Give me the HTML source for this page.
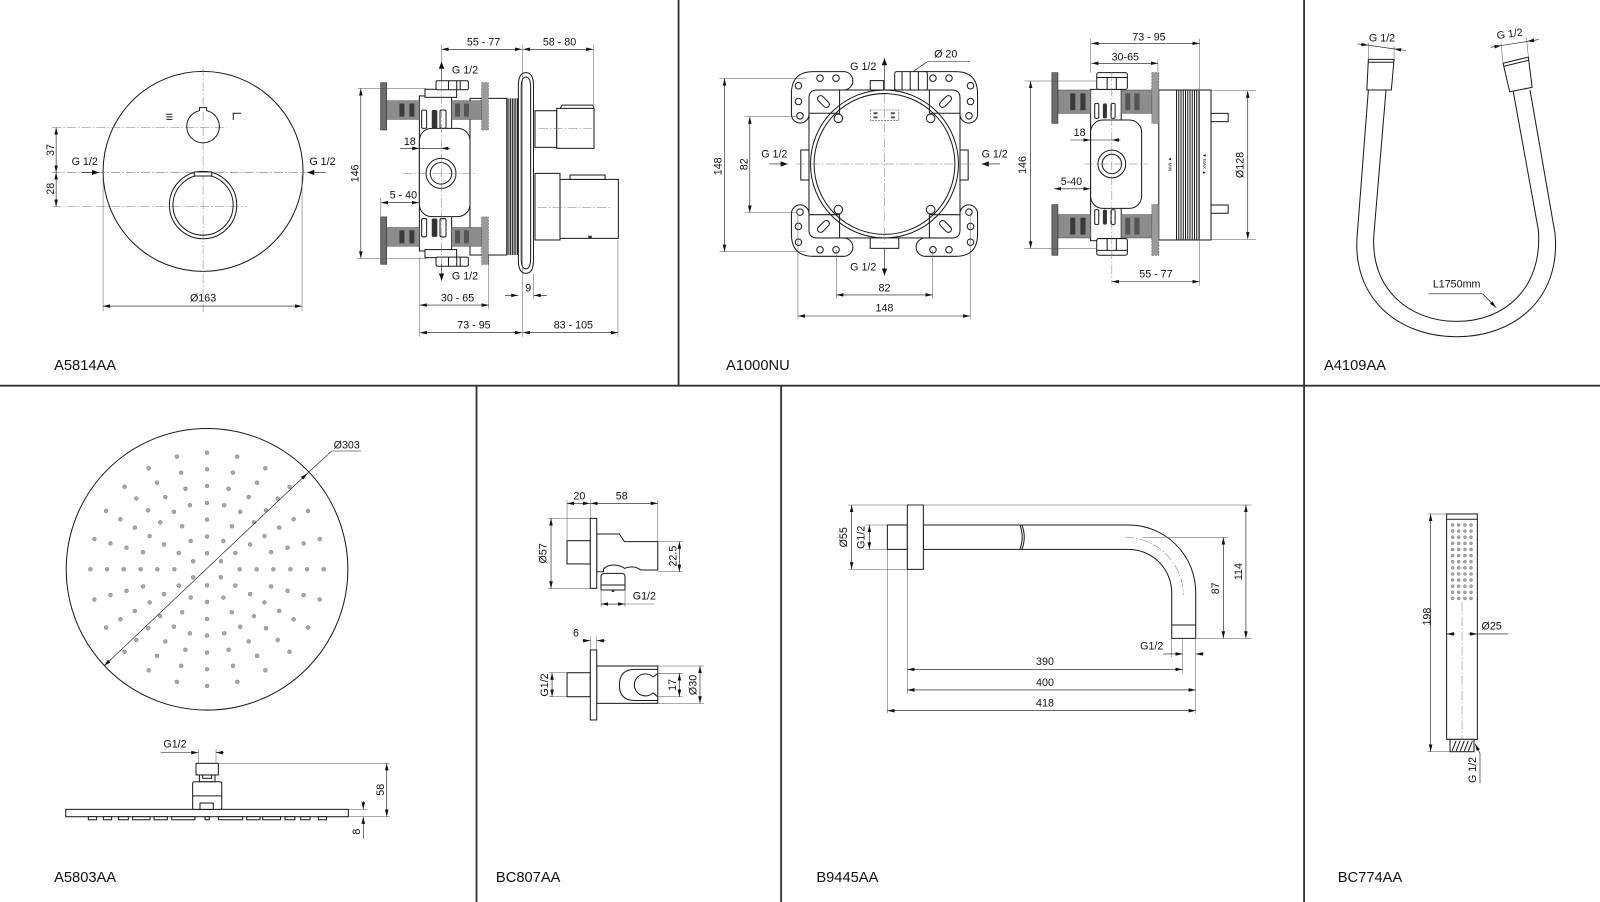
<!DOCTYPE html>
<html><head><meta charset="utf-8">
<style>
html,body{margin:0;padding:0;background:#fff}
svg{display:block}
text{font-family:"Liberation Sans",Arial,sans-serif;font-size:10.5px;fill:#111}
.lb{font-size:14.4px}
.sm{font-size:4.5px}
.o{fill:#fff;stroke:#1a1a1a;stroke-width:1}
.n{fill:none;stroke:#1a1a1a;stroke-width:1}
.d{fill:none;stroke:#111;stroke-width:0.6}
.e{fill:none;stroke:#555;stroke-width:0.5}
.c{fill:none;stroke:#777;stroke-width:0.5;stroke-dasharray:9 2 1.5 2}
.g{fill:#8c8c8c;stroke:#444;stroke-width:0.5}
.k{fill:#3a3a3a}
.h{fill:#9a9a9a;stroke:#555;stroke-width:0.6;stroke-dasharray:2 1}
.dot{fill:#a8a8a8;stroke:#777;stroke-width:0.45}
</style></head><body>
<svg width="1600" height="902" viewBox="0 0 1568 884" preserveAspectRatio="none" xmlns="http://www.w3.org/2000/svg">
<defs>
<marker id="m" viewBox="0 0 8 4" refX="8" refY="2" markerWidth="7" markerHeight="3.5" markerUnits="userSpaceOnUse" orient="auto-start-reverse"><path d="M0,0L8,2L0,4z" fill="#111"/></marker>
<marker id="mb" viewBox="0 0 8 6" refX="8" refY="3" markerWidth="7" markerHeight="5.5" markerUnits="userSpaceOnUse" orient="auto-start-reverse"><path d="M0,0L8,3L0,6z" fill="#111"/></marker>
</defs>

<!-- dividers -->
<g stroke="#333" stroke-width="1.8">
<line x1="0" y1="378" x2="1568" y2="378"/>
<line x1="665" y1="0" x2="665" y2="378"/>
<line x1="1278" y1="0" x2="1278" y2="884"/>
<line x1="467" y1="378" x2="467" y2="884"/>
<line x1="765.5" y1="378" x2="765.5" y2="884"/>
</g>

<!-- labels -->
<text class="lb" x="53" y="362.6">A5814AA</text>
<text class="lb" x="711.5" y="362.6">A1000NU</text>
<text class="lb" x="1297.5" y="362.6">A4109AA</text>
<text class="lb" x="53" y="864.5">A5803AA</text>
<text class="lb" x="486" y="864.5">BC807AA</text>
<text class="lb" x="800" y="864.5">B9445AA</text>
<text class="lb" x="1311" y="864.5">BC774AA</text>

<!-- ================= A5814AA front ================= -->
<circle cx="199" cy="168" r="98" class="n" stroke-width="1.2"/>
<line class="c" x1="51" y1="169" x2="300" y2="169"/>
<line class="c" x1="199" y1="66" x2="199" y2="306"/>
<line class="c" x1="51" y1="125" x2="222" y2="125"/>
<line class="c" x1="51" y1="202.5" x2="242" y2="202.5"/>
<circle cx="199" cy="124" r="16" class="n" stroke-width="1.1"/>
<path class="o" d="M195.5,108.8 V105.5 H202.5 V108.8"/>
<circle cx="199" cy="201" r="33" class="n" stroke-width="1.3"/>
<circle cx="199" cy="201" r="29.5" class="n" stroke-width="0.7"/>
<rect x="190.5" y="168.5" width="17" height="4" class="o" stroke-width="0.7"/>
<path class="n" d="M163,112 h6 M163,114.5 h6 M163,117 h6" stroke-width="0.7"/>
<path class="n" d="M228.6,117.5 V111 H236.3" stroke-width="1.2"/>
<line class="d" x1="55" y1="125" x2="55" y2="169" marker-start="url(#m)" marker-end="url(#m)"/>
<line class="d" x1="55" y1="169" x2="55" y2="202.5" marker-start="url(#m)" marker-end="url(#m)"/>
<text transform="translate(49,147) rotate(-90)" text-anchor="middle" dy="0.35em">37</text>
<text transform="translate(49,185) rotate(-90)" text-anchor="middle" dy="0.35em">28</text>
<text x="83" y="161.7" text-anchor="middle">G 1/2</text>
<line class="d" x1="80" y1="169" x2="97" y2="169" stroke-width="1.4" marker-end="url(#mb)"/>
<text x="316" y="161.7" text-anchor="middle">G 1/2</text>
<line class="d" x1="319" y1="169" x2="301" y2="169" stroke-width="1.4" marker-end="url(#mb)"/>
<line class="e" x1="101" y1="172" x2="101" y2="305"/>
<line class="e" x1="296" y1="172" x2="296" y2="305"/>
<line class="d" x1="101" y1="300" x2="296" y2="300" marker-start="url(#m)" marker-end="url(#m)"/>
<text x="199" y="295.5" text-anchor="middle">Ø163</text>

<!-- ================= A5814AA side ================= -->
<rect x="460.6" y="96.4" width="36" height="153.5" class="o"/>
<path class="n" stroke-width="0.6" d="M497,96.4V249.9M498.7,96.4V249.9M500.4,96.4V249.9M502.1,96.4V249.9M503.8,96.4V249.9M505.5,96.4V249.9M507.2,96.4V249.9"/>
<rect x="411" y="94" width="31.6" height="152" class="o"/>
<g id="p1u">
<rect x="379" y="98.7" width="32" height="18.3" class="g"/>
<rect x="391.4" y="101.5" width="4.9" height="12.8" class="k"/>
<rect x="401.2" y="101.5" width="4.9" height="12.8" class="k"/>
<rect x="442.6" y="98.7" width="29.4" height="18.3" class="g"/>
<rect x="445.9" y="101.5" width="4.9" height="12.8" fill="#555"/>
<rect x="454.7" y="101.5" width="4.9" height="12.8" fill="#555"/>
<rect x="373" y="81" width="6" height="46.4" fill="#6d6d6d" stroke="#333" stroke-width="0.6"/>
<rect x="472" y="81" width="6.6" height="46.4" class="h"/>
<rect x="413.2" y="107.8" width="4.9" height="18" rx="1.5" class="o" stroke-width="0.6"/>
<rect x="423.1" y="107.8" width="5.5" height="18" rx="1.5" fill="#333"/>
<rect x="431.2" y="107.8" width="5.9" height="18" rx="1.5" class="o" stroke-width="0.6"/>
<rect x="416.5" y="87.5" width="31" height="7.9" class="o"/>
<rect x="427.3" y="79.1" width="31.7" height="8.9" rx="1.5" class="o"/>
<path class="n" stroke-width="0.6" d="M439.5,79.1V88M447.6,79.1V88M451,79.1V88"/>
</g>
<use href="#p1u" transform="translate(0,340) scale(1,-1)"/>
<rect x="411" y="125.8" width="49.6" height="86.5" rx="12" class="o"/>
<circle cx="432.2" cy="169.9" r="14.7" class="o" stroke-width="1.1"/>
<circle cx="432.2" cy="169.9" r="10.5" class="n" stroke-width="0.8"/>
<line class="c" x1="395" y1="170" x2="468" y2="170"/>
<line class="c" x1="432.7" y1="78" x2="432.7" y2="262"/>
<path class="o" stroke-width="1.1" d="M508,84 Q508,71.2 515.4,71.2 Q522.8,71.2 522.8,84 V255 Q522.8,267.8 515.4,267.8 Q508,267.8 508,255 Z"/>
<path class="n" stroke-width="0.5" d="M510.8,86 Q510.8,75.5 515.4,75.5 Q520,75.5 520,86 V253 Q520,263.5 515.4,263.5 Q510.8,263.5 510.8,253 Z"/>
<rect x="524.3" y="108.5" width="21.3" height="35.9" class="o"/>
<rect x="545.6" y="106.2" width="36.5" height="39.2" class="o"/>
<path class="n" stroke-width="0.7" d="M549,106.2 L551,103 H581 L582.1,106.2"/>
<line class="c" x1="528" y1="125.8" x2="580" y2="125.8"/>
<rect x="524.3" y="169.9" width="24.5" height="65.3" class="o"/>
<rect x="548.8" y="175.8" width="57.2" height="57.8" class="o"/>
<rect x="558.6" y="171.5" width="34.4" height="4.3" class="o" stroke-width="0.7"/>
<rect x="576.5" y="231" width="3.5" height="2.6" fill="#333"/>
<line class="c" x1="527" y1="203.5" x2="600" y2="203.5"/>
<!-- dims -->
<line class="e" x1="432.7" y1="44" x2="432.7" y2="60"/>
<line class="e" x1="512" y1="44" x2="512" y2="330"/>
<line class="e" x1="581.4" y1="44" x2="581.4" y2="106"/>
<line class="d" x1="432.7" y1="48.3" x2="511.5" y2="48.3" marker-start="url(#m)" marker-end="url(#m)"/>
<line class="d" x1="512.5" y1="48.3" x2="581.4" y2="48.3" marker-start="url(#m)" marker-end="url(#m)"/>
<text x="473.9" y="44.8" text-anchor="middle">55 - 77</text>
<text x="548.3" y="44.8" text-anchor="middle">58 - 80</text>
<line class="e" x1="350.6" y1="86.6" x2="418" y2="86.6"/>
<line class="e" x1="350.6" y1="253.2" x2="418" y2="253.2"/>
<line class="d" x1="353.6" y1="86.6" x2="353.6" y2="253.2" marker-start="url(#m)" marker-end="url(#m)"/>
<text transform="translate(347.5,170) rotate(-90)" text-anchor="middle" dy="0.35em">146</text>
<text x="401.6" y="142" text-anchor="middle">18</text>
<line class="d" x1="392" y1="145.4" x2="411" y2="145.4" marker-end="url(#m)"/>
<line class="d" x1="441" y1="145.4" x2="432.4" y2="145.4" marker-end="url(#m)"/>
<line class="d" x1="411" y1="145.4" x2="432.4" y2="145.4"/>
<text x="395.3" y="194.5" text-anchor="middle">5 - 40</text>
<line class="d" x1="373.2" y1="198.6" x2="410.6" y2="198.6" marker-start="url(#m)" marker-end="url(#m)"/>
<line class="e" x1="373.2" y1="194" x2="373.2" y2="212"/>
<line class="d" x1="432.7" y1="79" x2="432.7" y2="60.4" stroke-width="1.3" marker-end="url(#mb)"/>
<text x="442.9" y="71.9">G 1/2</text>
<line class="d" x1="432.7" y1="259" x2="432.7" y2="275" stroke-width="1.3" marker-end="url(#mb)"/>
<text x="442.9" y="273.8">G 1/2</text>
<line class="e" x1="411.4" y1="252" x2="411.4" y2="330"/>
<line class="e" x1="479" y1="250" x2="479" y2="303"/>
<line class="e" x1="605.6" y1="235" x2="605.6" y2="330"/>
<line class="d" x1="411.4" y1="299" x2="479" y2="299" marker-start="url(#m)" marker-end="url(#m)"/>
<text x="448.4" y="295.7" text-anchor="middle">30 - 65</text>
<text x="517.7" y="285.9" text-anchor="middle">9</text>
<line class="d" x1="495" y1="289.5" x2="508" y2="289.5" marker-end="url(#m)"/>
<line class="d" x1="536" y1="289.5" x2="523" y2="289.5" marker-end="url(#m)"/>
<line class="e" x1="523" y1="268" x2="523" y2="293"/>
<line class="d" x1="411.4" y1="326" x2="511.5" y2="326" marker-start="url(#m)" marker-end="url(#m)"/>
<text x="464.5" y="321.8" text-anchor="middle">73 - 95</text>
<line class="d" x1="512.5" y1="326" x2="605.6" y2="326" marker-start="url(#m)" marker-end="url(#m)"/>
<text x="561.9" y="321.8" text-anchor="middle">83 - 105</text>

<!-- ================= A1000NU front ================= -->
<rect x="792.8" y="88.2" width="148" height="145" class="o"/>
<g id="brk">
<path class="o" d="M792.8,114 V96 Q792.8,88.2 800.6,88.2 H826.8 A9,9 0 0 0 826.8,70.2 H797 Q775.6,70.2 775.6,92 V112 A8.6,8.6 0 0 0 792.8,112 Z"/>
<circle cx="803.6" cy="76.6" r="3.2" class="n"/>
<circle cx="819.3" cy="76.6" r="3.2" class="n"/>
<circle cx="782.5" cy="84" r="3.2" class="n"/>
<circle cx="782.5" cy="99.5" r="3.2" class="n"/>
<circle cx="784" cy="113.5" r="3.2" class="n"/>
<path class="n" stroke-width="0.7" d="M792.8,111 H822.8 V88.2"/>
<rect x="800" y="96.5" width="14" height="6" rx="3" class="n" transform="rotate(45 807 99.5)"/>
<circle cx="821.6" cy="116" r="4.2" class="n" stroke-width="0.9"/>
</g>
<use href="#brk" transform="translate(1733.6,0) scale(-1,1)"/>
<use href="#brk" transform="translate(0,321.4) scale(1,-1)"/>
<use href="#brk" transform="translate(1733.6,321.4) scale(-1,-1)"/>
<circle cx="866.8" cy="160.7" r="72.5" class="n" stroke-width="1.2"/>
<circle cx="866.8" cy="160.7" r="69" class="n" stroke-width="0.8"/>
<rect x="784.8" y="147" width="8" height="29.4" class="o"/>
<rect x="940.8" y="147" width="8" height="29.4" class="o"/>
<rect x="852.8" y="79" width="13.2" height="9.2" class="o"/>
<rect x="876.8" y="70.2" width="32" height="18" rx="2" class="o"/>
<path class="n" stroke-width="0.6" d="M884,70.5V88M892,70.5V88M900,70.5V88"/>
<rect x="852.8" y="233.2" width="28" height="10.2" class="o"/>
<rect x="852.8" y="107.8" width="28" height="10.5" fill="none" stroke="#444" stroke-width="0.6" stroke-dasharray="2 1"/>
<path fill="#555" d="M856,110h4v2h-4zM873,110h4v2h-4zM856,114h4v2h-4zM873,114h4v2h-4z"/>
<line class="c" x1="780" y1="160.7" x2="955" y2="160.7"/>
<line class="c" x1="866.8" y1="92" x2="866.8" y2="238"/>
<!-- dims -->
<line class="d" x1="866.8" y1="88" x2="866.8" y2="57" stroke-width="1.3" marker-end="url(#mb)"/>
<text x="846" y="68.6" text-anchor="middle">G 1/2</text>
<text x="926.8" y="56.2" text-anchor="middle">Ø 20</text>
<path class="d" d="M894.8,70.2 L908.8,60.4 H950.8"/>
<line class="e" x1="705" y1="76.8" x2="790" y2="76.8"/>
<line class="e" x1="705" y1="246.7" x2="790" y2="246.7"/>
<line class="d" x1="710" y1="76.8" x2="710" y2="246.7" marker-start="url(#m)" marker-end="url(#m)"/>
<text transform="translate(703.6,163) rotate(-90)" text-anchor="middle" dy="0.35em">148</text>
<line class="e" x1="730" y1="114.3" x2="781" y2="114.3"/>
<line class="e" x1="730" y1="208.4" x2="781" y2="208.4"/>
<line class="d" x1="734.8" y1="114.3" x2="734.8" y2="208.4" marker-start="url(#m)" marker-end="url(#m)"/>
<text transform="translate(728.8,161) rotate(-90)" text-anchor="middle" dy="0.35em">82</text>
<text x="758.8" y="154.2" text-anchor="middle">G 1/2</text>
<line class="d" x1="754" y1="160.7" x2="772" y2="160.7" stroke-width="1.3" marker-end="url(#mb)"/>
<text x="974.8" y="154.2" text-anchor="middle">G 1/2</text>
<line class="d" x1="980" y1="160.7" x2="962" y2="160.7" stroke-width="1.3" marker-end="url(#mb)"/>
<line class="d" x1="866.8" y1="244" x2="866.8" y2="270" stroke-width="1.3" marker-end="url(#mb)"/>
<text x="846" y="265.3" text-anchor="middle">G 1/2</text>
<line class="e" x1="819.6" y1="245" x2="819.6" y2="293"/>
<line class="e" x1="914" y1="245" x2="914" y2="293"/>
<line class="d" x1="819.6" y1="289" x2="914" y2="289" marker-start="url(#m)" marker-end="url(#m)"/>
<text x="866.8" y="285.9" text-anchor="middle">82</text>
<line class="e" x1="782" y1="210" x2="782" y2="313"/>
<line class="e" x1="950.8" y1="210" x2="950.8" y2="313"/>
<line class="d" x1="782" y1="309.7" x2="950.8" y2="309.7" marker-start="url(#m)" marker-end="url(#m)"/>
<text x="866.8" y="305.5" text-anchor="middle">148</text>

<!-- ================= A1000NU side ================= -->
<rect x="1135.6" y="88.2" width="51.2" height="147" class="o"/>
<path class="n" stroke-width="0.6" d="M1153,88.2V235.2M1155.2,88.2V235.2M1157.4,88.2V235.2M1159.6,88.2V235.2M1161.8,88.2V235.2M1164,88.2V235.2M1166.2,88.2V235.2M1168.4,88.2V235.2M1170.6,88.2V235.2M1172.8,88.2V235.2M1175,88.2V235.2"/>
<rect x="1186.8" y="111.1" width="16.8" height="8.1" class="o"/>
<rect x="1186.8" y="200.9" width="16.8" height="8.1" class="o"/>
<text class="sm" transform="translate(1146.8,160.7) rotate(90)" text-anchor="middle" dy="0.35em">▼ MIN</text>
<text class="sm" transform="translate(1180.5,160.7) rotate(90)" text-anchor="middle" dy="0.35em">▼ MAX ▲</text>
<rect x="1068.8" y="87.6" width="30" height="148.3" class="o"/>
<g id="p2u">
<rect x="1036.8" y="88.2" width="32" height="22.9" class="g"/>
<rect x="1048.8" y="91.5" width="5" height="16.5" class="k"/>
<rect x="1058.8" y="91.5" width="5" height="16.5" class="k"/>
<rect x="1098.8" y="88.2" width="30" height="22.9" class="g"/>
<rect x="1102.8" y="91.5" width="4.8" height="16.5" fill="#555"/>
<rect x="1111.6" y="91.5" width="5.2" height="16.5" fill="#555"/>
<rect x="1030.8" y="71.2" width="6" height="49.7" fill="#6d6d6d" stroke="#333" stroke-width="0.6"/>
<rect x="1128.8" y="71.2" width="6.8" height="49.7" class="h"/>
<rect x="1072.8" y="101.3" width="4" height="14.7" rx="1.5" class="o" stroke-width="0.6"/>
<rect x="1080.8" y="101.3" width="4" height="14.7" rx="1.5" fill="#333"/>
<rect x="1088.8" y="101.3" width="4" height="14.7" rx="1.5" class="o" stroke-width="0.6"/>
<rect x="1074.8" y="71.2" width="30" height="16.4" rx="2" class="o"/>
<path class="n" stroke-width="0.6" d="M1074.8,76H1104.8M1085,76V87.6M1094,76V87.6"/>
</g>
<use href="#p2u" transform="translate(0,321.4) scale(1,-1)"/>
<rect x="1068.8" y="117.6" width="50" height="86.6" rx="12" class="o"/>
<circle cx="1089.6" cy="160.7" r="13.6" class="o" stroke-width="1.1"/>
<circle cx="1089.6" cy="160.7" r="9.5" class="n" stroke-width="0.8"/>
<line class="c" x1="1062.8" y1="160.7" x2="1124.8" y2="160.7"/>
<line class="c" x1="1089.6" y1="71" x2="1089.6" y2="278"/>
<!-- dims -->
<line class="e" x1="1068.8" y1="38" x2="1068.8" y2="71"/>
<line class="e" x1="1134.8" y1="58" x2="1134.8" y2="71"/>
<line class="e" x1="1175.6" y1="38" x2="1175.6" y2="280"/>
<line class="d" x1="1069.5" y1="42.5" x2="1175.6" y2="42.5" marker-start="url(#m)" marker-end="url(#m)"/>
<text x="1126" y="39.9" text-anchor="middle">73 - 95</text>
<line class="d" x1="1069.5" y1="62" x2="1134.8" y2="62" marker-start="url(#m)" marker-end="url(#m)"/>
<text x="1102.8" y="59.5" text-anchor="middle">30-65</text>
<line class="e" x1="1004" y1="79.4" x2="1075" y2="79.4"/>
<line class="e" x1="1004" y1="243.4" x2="1075" y2="243.4"/>
<line class="d" x1="1010" y1="79.4" x2="1010" y2="243.4" marker-start="url(#m)" marker-end="url(#m)"/>
<text transform="translate(1002,161.7) rotate(-90)" text-anchor="middle" dy="0.35em">146</text>
<text x="1058" y="133.3" text-anchor="middle">18</text>
<line class="d" x1="1048.8" y1="137.2" x2="1068.8" y2="137.2" marker-end="url(#m)"/>
<line class="d" x1="1098" y1="137.2" x2="1089.6" y2="137.2" marker-end="url(#m)"/>
<line class="d" x1="1068.8" y1="137.2" x2="1089.6" y2="137.2"/>
<text x="1050" y="181.3" text-anchor="middle">5-40</text>
<line class="d" x1="1033" y1="185" x2="1068.8" y2="185" marker-start="url(#m)" marker-end="url(#m)"/>
<line class="e" x1="1186.8" y1="88.9" x2="1231" y2="88.9"/>
<line class="e" x1="1186.8" y1="234.5" x2="1231" y2="234.5"/>
<line class="d" x1="1222.8" y1="88.9" x2="1222.8" y2="234.5" marker-start="url(#m)" marker-end="url(#m)"/>
<text transform="translate(1215,161.7) rotate(-90)" text-anchor="middle" dy="0.35em">Ø128</text>
<line class="d" x1="1089.6" y1="276" x2="1175.6" y2="276" marker-start="url(#m)" marker-end="url(#m)"/>
<text x="1132.8" y="272.1" text-anchor="middle">55 - 77</text>

<!-- ================= A4109AA hose ================= -->
<path class="n" stroke-width="1.1" d="M1341,88.2 L1330.2,228.7 C1324,292 1370,330 1427.6,330 C1485,330 1530,292 1523.9,228.7 L1499.4,88.2"/>
<path class="n" stroke-width="1.1" d="M1358.3,88.2 L1346.5,228.7 C1342,282 1380,315 1427.6,315 C1475,315 1512,282 1507.6,225.4 L1483,89.8"/>
<polygon class="o" points="1341,58.2 1366.2,58.2 1363.5,88.2 1339.5,88.2"/>
<line class="n" stroke-width="0.6" x1="1340.8" y1="61" x2="1366" y2="61"/>
<polygon class="o" points="1473,62 1497.8,56 1501.5,85.6 1479.5,89.9"/>
<line class="n" stroke-width="0.6" x1="1473.5" y1="65" x2="1498.2" y2="59"/>
<line class="e" x1="1341" y1="58" x2="1341" y2="42"/>
<line class="e" x1="1366.2" y1="58" x2="1366.2" y2="45"/>
<line class="d" x1="1330" y1="43" x2="1341" y2="44.3" marker-end="url(#m)"/>
<line class="d" x1="1378" y1="49.5" x2="1366.2" y2="48" marker-end="url(#m)"/>
<line class="d" x1="1341" y1="44.3" x2="1366.2" y2="48"/>
<text x="1354.4" y="40.8" text-anchor="middle">G 1/2</text>
<line class="e" x1="1473" y1="62" x2="1471" y2="42"/>
<line class="e" x1="1497.8" y1="56" x2="1496" y2="37"/>
<line class="d" x1="1460.9" y1="46.4" x2="1471.5" y2="44.6" marker-end="url(#m)"/>
<line class="d" x1="1508" y1="38.8" x2="1496.5" y2="40.6" marker-end="url(#m)"/>
<line class="d" x1="1471.5" y1="44.6" x2="1496.5" y2="40.6"/>
<text x="1480" y="36.6" text-anchor="middle" transform="rotate(-8 1480 36.6)">G 1/2</text>
<text x="1427.5" y="282" text-anchor="middle">L1750mm</text>
<path class="d" d="M1399.8,288 H1453 L1466.2,301.5" marker-end="url(#m)"/>

<!-- ================= A5803AA ================= -->
<circle cx="202.9" cy="557.9" r="138" class="n" stroke-width="1.1"/>
<g id="r4"><circle class="dot" cx="267.9" cy="557.9" r="1.9"/><circle class="dot" cx="284.6" cy="557.9" r="1.9"/><circle class="dot" cx="300.9" cy="557.9" r="1.9"/><circle class="dot" cx="317.2" cy="557.9" r="1.9"/></g>
<g id="r2"><circle class="dot" cx="234.9" cy="557.9" r="1.9"/><circle class="dot" cx="251.6" cy="557.9" r="1.9"/></g>
<circle id="r1" class="dot" cx="218.6" cy="557.9" r="1.9" transform="rotate(30 202.9 557.9)"/>
<use href="#r4" transform="rotate(15 202.9 557.9)"/>
<use href="#r4" transform="rotate(30 202.9 557.9)"/>
<use href="#r4" transform="rotate(45 202.9 557.9)"/>
<use href="#r4" transform="rotate(60 202.9 557.9)"/>
<use href="#r4" transform="rotate(75 202.9 557.9)"/>
<use href="#r4" transform="rotate(90 202.9 557.9)"/>
<use href="#r4" transform="rotate(105 202.9 557.9)"/>
<use href="#r4" transform="rotate(120 202.9 557.9)"/>
<use href="#r4" transform="rotate(135 202.9 557.9)"/>
<use href="#r4" transform="rotate(150 202.9 557.9)"/>
<use href="#r4" transform="rotate(165 202.9 557.9)"/>
<use href="#r4" transform="rotate(180 202.9 557.9)"/>
<use href="#r4" transform="rotate(195 202.9 557.9)"/>
<use href="#r4" transform="rotate(210 202.9 557.9)"/>
<use href="#r4" transform="rotate(225 202.9 557.9)"/>
<use href="#r4" transform="rotate(240 202.9 557.9)"/>
<use href="#r4" transform="rotate(255 202.9 557.9)"/>
<use href="#r4" transform="rotate(270 202.9 557.9)"/>
<use href="#r4" transform="rotate(285 202.9 557.9)"/>
<use href="#r4" transform="rotate(300 202.9 557.9)"/>
<use href="#r4" transform="rotate(315 202.9 557.9)"/>
<use href="#r4" transform="rotate(330 202.9 557.9)"/>
<use href="#r4" transform="rotate(345 202.9 557.9)"/>
<use href="#r2" transform="rotate(30 202.9 557.9)"/>
<use href="#r2" transform="rotate(60 202.9 557.9)"/>
<use href="#r2" transform="rotate(90 202.9 557.9)"/>
<use href="#r2" transform="rotate(120 202.9 557.9)"/>
<use href="#r2" transform="rotate(150 202.9 557.9)"/>
<use href="#r2" transform="rotate(180 202.9 557.9)"/>
<use href="#r2" transform="rotate(210 202.9 557.9)"/>
<use href="#r2" transform="rotate(240 202.9 557.9)"/>
<use href="#r2" transform="rotate(270 202.9 557.9)"/>
<use href="#r2" transform="rotate(300 202.9 557.9)"/>
<use href="#r2" transform="rotate(330 202.9 557.9)"/>
<use href="#r1" transform="rotate(60 202.9 557.9)"/>
<use href="#r1" transform="rotate(120 202.9 557.9)"/>
<use href="#r1" transform="rotate(180 202.9 557.9)"/>
<use href="#r1" transform="rotate(240 202.9 557.9)"/>
<use href="#r1" transform="rotate(300 202.9 557.9)"/>
<line class="d" x1="101.9" y1="652.7" x2="301.2" y2="463.9" marker-start="url(#m)" marker-end="url(#m)"/>
<path class="d" d="M301.2,463.9 L325,442 H353.8"/>
<text x="339.8" y="439.4" text-anchor="middle">Ø303</text>
<!-- side view -->
<rect x="64.4" y="793.2" width="277" height="7.2" class="o"/>
<g class="o" stroke-width="0.5">
<rect x="86.6" y="800.4" width="8.1" height="3"/><rect x="101.3" y="800.4" width="8.1" height="3"/><rect x="116" y="800.4" width="9.8" height="3"/><rect x="130" y="800.4" width="17" height="3"/><rect x="151" y="800.4" width="13" height="3"/><rect x="168.3" y="800.4" width="22.7" height="3"/><rect x="201" y="800.4" width="4" height="3"/><rect x="214" y="800.4" width="23.8" height="3"/><rect x="241.8" y="800.4" width="13" height="3"/><rect x="257.4" y="800.4" width="17.6" height="3"/><rect x="279.3" y="800.4" width="9.7" height="3"/><rect x="294.7" y="800.4" width="9.1" height="3"/><rect x="312" y="800.4" width="8" height="3"/>
</g>
<rect x="188.8" y="766.1" width="28.5" height="27.1" rx="1.5" class="o"/>
<line class="n" stroke-width="0.6" x1="188.8" y1="780" x2="217.3" y2="780"/>
<rect x="196" y="787" width="13" height="6.2" class="o" stroke-width="0.6"/>
<rect x="195.4" y="759.5" width="15.3" height="6.6" class="o"/>
<rect x="198.6" y="759.5" width="8.8" height="3.3" class="o" stroke-width="0.6"/>
<rect x="192.1" y="748.1" width="21.9" height="11.4" class="o"/>
<text x="171.5" y="732.4" text-anchor="middle">G1/2</text>
<line class="e" x1="194.4" y1="734" x2="194.4" y2="748"/>
<line class="e" x1="211.7" y1="734" x2="211.7" y2="748"/>
<line class="d" x1="157.5" y1="737.6" x2="194.4" y2="737.6" marker-end="url(#m)"/>
<line class="d" x1="219.5" y1="737.6" x2="211.7" y2="737.6" marker-end="url(#m)"/>
<line class="e" x1="214" y1="748" x2="382" y2="748"/>
<line class="e" x1="341.4" y1="793.2" x2="360" y2="793.2"/>
<line class="e" x1="341.4" y1="800.4" x2="382" y2="800.4"/>
<line class="d" x1="379" y1="748" x2="379" y2="800.4" marker-start="url(#m)" marker-end="url(#m)"/>
<text transform="translate(372.4,774) rotate(-90)" text-anchor="middle" dy="0.35em">58</text>
<line class="d" x1="356" y1="785" x2="356" y2="793.2" marker-end="url(#m)"/>
<line class="d" x1="356" y1="822" x2="356" y2="800.4" marker-end="url(#m)"/>
<text transform="translate(349,815) rotate(-90)" text-anchor="middle" dy="0.35em">8</text>

<!-- ================= BC807AA ================= -->
<rect x="555.7" y="529.9" width="22.8" height="22.8" class="o"/>
<path class="o" d="M584.8,523.3 H607 L611.9,530.8 H644.6 V558.6 H628 C622,554 616,555.5 612,557 C606,552.5 596,552.5 591.5,557.5 V560.3 H584.8 Z"/>
<rect x="578.5" y="508" width="6.3" height="68.6" class="o"/>
<path class="o" d="M589,578.2 V565 Q589,561.9 593,561.9 H608.5 Q612.5,561.9 612.5,565 V578.2 Z"/>
<line class="n" stroke-width="0.6" x1="589" y1="573.3" x2="612.5" y2="573.3"/>
<rect x="599.5" y="578.2" width="2.5" height="2" fill="#333"/>
<line class="e" x1="555.7" y1="490" x2="555.7" y2="529.9"/>
<line class="e" x1="578.5" y1="490" x2="578.5" y2="508"/>
<line class="e" x1="644.6" y1="490" x2="644.6" y2="530.8"/>
<line class="d" x1="555.7" y1="493.3" x2="578.3" y2="493.3" marker-start="url(#m)" marker-end="url(#m)"/>
<line class="d" x1="578.7" y1="493.3" x2="644.6" y2="493.3" marker-start="url(#m)" marker-end="url(#m)"/>
<text x="567.8" y="489.3" text-anchor="middle">20</text>
<text x="609.3" y="489.3" text-anchor="middle">58</text>
<line class="e" x1="537" y1="508" x2="578.5" y2="508"/>
<line class="e" x1="537" y1="576.6" x2="578.5" y2="576.6"/>
<line class="d" x1="540" y1="508" x2="540" y2="576.6" marker-start="url(#m)" marker-end="url(#m)"/>
<text transform="translate(531.8,542.3) rotate(-90)" text-anchor="middle" dy="0.35em">Ø57</text>
<line class="e" x1="644.6" y1="530.8" x2="669" y2="530.8"/>
<line class="e" x1="644.6" y1="560.3" x2="669" y2="560.3"/>
<line class="d" x1="665.8" y1="530.8" x2="665.8" y2="560.3" marker-start="url(#m)" marker-end="url(#m)"/>
<text transform="translate(659.2,545) rotate(-90)" text-anchor="middle" dy="0.35em">22.5</text>
<line class="e" x1="589" y1="578" x2="589" y2="595"/>
<line class="e" x1="612.5" y1="578" x2="612.5" y2="595"/>
<line class="d" x1="589" y1="592" x2="612.5" y2="592" marker-start="url(#m)" marker-end="url(#m)"/>
<line class="e" x1="612.5" y1="592" x2="641.4" y2="592"/>
<text x="631.5" y="587.4" text-anchor="middle">G1/2</text>
<!-- lower -->
<rect x="555.7" y="659.3" width="22.8" height="23.5" class="o"/>
<rect x="584.8" y="652.7" width="59.8" height="36.6" class="o"/>
<path class="n" d="M644.6,656 H622 Q607,656 607,671.3 Q607,686.5 622,686.5 H644.6"/>
<path class="n" stroke-width="1.1" d="M640,663.5 A10.8,10.8 0 1 0 640,679"/>
<line class="n" x1="640" y1="663.5" x2="644.6" y2="660"/>
<line class="n" x1="640" y1="679" x2="644.6" y2="683"/>
<rect x="578.5" y="637" width="6.3" height="68.6" class="o"/>
<text x="564.5" y="624" text-anchor="middle">6</text>
<line class="e" x1="578.5" y1="624" x2="578.5" y2="637"/>
<line class="e" x1="584.8" y1="624" x2="584.8" y2="637"/>
<line class="d" x1="571" y1="627.9" x2="578.5" y2="627.9" marker-end="url(#m)"/>
<line class="d" x1="593.3" y1="627.9" x2="584.8" y2="627.9" marker-end="url(#m)"/>
<line class="e" x1="538" y1="659.3" x2="555.7" y2="659.3"/>
<line class="e" x1="538" y1="682.8" x2="555.7" y2="682.8"/>
<line class="d" x1="541" y1="659.3" x2="541" y2="682.8" marker-start="url(#m)" marker-end="url(#m)"/>
<text transform="translate(533.5,671.3) rotate(-90)" text-anchor="middle" dy="0.35em">G1/2</text>
<line class="e" x1="644.6" y1="660" x2="669" y2="660"/>
<line class="e" x1="644.6" y1="682.8" x2="669" y2="682.8"/>
<line class="d" x1="665.8" y1="660" x2="665.8" y2="682.8" marker-start="url(#m)" marker-end="url(#m)"/>
<text transform="translate(658.6,671.3) rotate(-90)" text-anchor="middle" dy="0.35em">17</text>
<line class="e" x1="644.6" y1="652.7" x2="690" y2="652.7"/>
<line class="e" x1="644.6" y1="689.3" x2="690" y2="689.3"/>
<line class="d" x1="686" y1="652.7" x2="686" y2="689.3" marker-start="url(#m)" marker-end="url(#m)"/>
<text transform="translate(679,671.3) rotate(-90)" text-anchor="middle" dy="0.35em">Ø30</text>

<!-- ================= B9445AA ================= -->
<path class="o" d="M904.9,514.5 H1105.8 A66,66 0 0 1 1171.8,580.5 V625.6 H1148.3 V580.9 A42.5,42.5 0 0 0 1105.8,538.4 H904.9 Z"/>
<line class="n" stroke-width="0.7" x1="1148.3" y1="612.5" x2="1171.8" y2="612.5"/>
<path class="n" stroke-width="0.7" d="M999.5,514.5 Q1004,526.5 999.5,538.4 M1001.5,514.5 Q1006,526.5 1001.5,538.4"/>
<path class="c" d="M1102.5,526.6 A57,57 0 0 1 1159.7,583"/>
<rect x="869.6" y="514.5" width="19.6" height="23.9" class="o"/>
<rect x="889.2" y="494.9" width="15.7" height="63.1" class="o"/>
<line class="e" x1="831.4" y1="494.9" x2="1226.7" y2="494.9"/>
<line class="e" x1="831.4" y1="558" x2="889.2" y2="558"/>
<line class="d" x1="834.6" y1="494.9" x2="834.6" y2="558" marker-start="url(#m)" marker-end="url(#m)"/>
<text transform="translate(826.5,526.6) rotate(-90)" text-anchor="middle" dy="0.35em">Ø55</text>
<line class="e" x1="848" y1="514.5" x2="869.6" y2="514.5"/>
<line class="e" x1="848" y1="538.4" x2="869.6" y2="538.4"/>
<line class="d" x1="852" y1="514.5" x2="852" y2="538.4" marker-start="url(#m)" marker-end="url(#m)"/>
<text transform="translate(843.5,526.6) rotate(-90)" text-anchor="middle" dy="0.35em">G1/2</text>
<line class="e" x1="1120" y1="526.6" x2="1203" y2="526.6"/>
<line class="e" x1="1171.8" y1="625.6" x2="1226.7" y2="625.6"/>
<line class="d" x1="1198.9" y1="526.6" x2="1198.9" y2="625.6" marker-start="url(#m)" marker-end="url(#m)"/>
<text transform="translate(1190.7,576.6) rotate(-90)" text-anchor="middle" dy="0.35em">87</text>
<line class="d" x1="1221" y1="494.9" x2="1221" y2="625.6" marker-start="url(#m)" marker-end="url(#m)"/>
<text transform="translate(1213.6,560.2) rotate(-90)" text-anchor="middle" dy="0.35em">114</text>
<line class="e" x1="869.6" y1="538.4" x2="869.6" y2="699"/>
<line class="e" x1="889.2" y1="558" x2="889.2" y2="680"/>
<line class="e" x1="1148.3" y1="625.6" x2="1148.3" y2="644"/>
<line class="e" x1="1159" y1="625.6" x2="1159" y2="660"/>
<line class="e" x1="1171.8" y1="625.6" x2="1171.8" y2="699"/>
<text x="1128.7" y="636.5" text-anchor="middle">G1/2</text>
<line class="d" x1="1140" y1="640.9" x2="1159" y2="640.9" marker-end="url(#m)"/>
<line class="d" x1="1180" y1="640.9" x2="1171.8" y2="640.9" marker-end="url(#m)"/>
<line class="d" x1="889.2" y1="656" x2="1159" y2="656" marker-start="url(#m)" marker-end="url(#m)"/>
<text x="1024.1" y="651.7" text-anchor="middle">390</text>
<line class="d" x1="889.2" y1="676.2" x2="1171.8" y2="676.2" marker-start="url(#m)" marker-end="url(#m)"/>
<text x="1024.1" y="672.3" text-anchor="middle">400</text>
<line class="d" x1="869.6" y1="696.5" x2="1171.8" y2="696.5" marker-start="url(#m)" marker-end="url(#m)"/>
<text x="1024.1" y="692.6" text-anchor="middle">418</text>

<!-- ================= BC774AA ================= -->
<rect x="1417.7" y="503.7" width="30.1" height="220.9" class="o"/>
<line class="n" stroke-width="0.6" x1="1417.7" y1="508.9" x2="1447.8" y2="508.9"/>
<rect x="1421" y="724.6" width="23.5" height="12.1" class="o"/>
<path class="n" stroke-width="0.5" d="M1423,736 l4,-10 M1427,736 l4,-10 M1431,736 l4,-10 M1435,736 l4,-10 M1439,736 l4,-10"/>
<g id="dr"><circle class="dot" cx="1423.6" cy="514.5" r="1.5"/><circle class="dot" cx="1429.5" cy="514.5" r="1.5"/><circle class="dot" cx="1435.7" cy="514.5" r="1.5"/><circle class="dot" cx="1441.6" cy="514.5" r="1.5"/></g>
<use href="#dr" transform="translate(0,6)"/>
<use href="#dr" transform="translate(0,12)"/>
<use href="#dr" transform="translate(0,18)"/>
<use href="#dr" transform="translate(0,24)"/>
<use href="#dr" transform="translate(0,30)"/>
<use href="#dr" transform="translate(0,36)"/>
<use href="#dr" transform="translate(0,42)"/>
<use href="#dr" transform="translate(0,48)"/>
<use href="#dr" transform="translate(0,54)"/>
<use href="#dr" transform="translate(0,60)"/>
<use href="#dr" transform="translate(0,66)"/>
<use href="#dr" transform="translate(0,72)"/>
<line class="c" x1="1432.8" y1="590" x2="1432.8" y2="724"/>
<line class="e" x1="1399" y1="503.7" x2="1417.7" y2="503.7"/>
<line class="e" x1="1399" y1="736.7" x2="1421" y2="736.7"/>
<line class="d" x1="1402" y1="503.7" x2="1402" y2="736.7" marker-start="url(#m)" marker-end="url(#m)"/>
<text transform="translate(1398.1,604.3) rotate(-90)" text-anchor="middle" dy="0.35em">198</text>
<line class="d" x1="1426" y1="621.3" x2="1417.9" y2="621.3" marker-end="url(#m)"/>
<line class="d" x1="1439" y1="621.3" x2="1447.6" y2="621.3" marker-end="url(#m)"/>
<line class="d" x1="1447.8" y1="621.3" x2="1478" y2="621.3"/>
<text x="1461.8" y="616.8" text-anchor="middle">Ø25</text>
<path class="d" d="M1450.4,767.7 V738.3 L1445.5,729" marker-end="url(#m)"/>
<text transform="translate(1443,754.6) rotate(-90)" text-anchor="middle" dy="0.35em">G 1/2</text>

</svg>
</body></html>
